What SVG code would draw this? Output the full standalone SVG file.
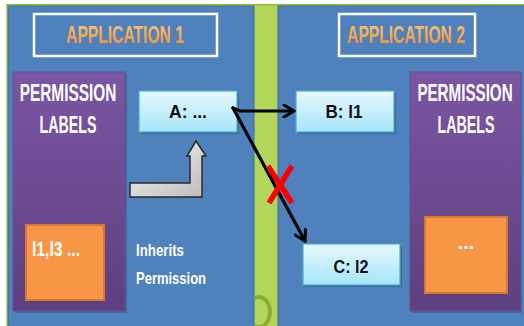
<svg xmlns="http://www.w3.org/2000/svg" width="524" height="326" viewBox="0 0 524 326">
  <style>
    .panel { fill: #4f81bd; stroke: #3d6aa0; stroke-width: 1; }
    .title-box { fill: #4f81bd; stroke: #ffffff; stroke-width: 2.5; }
    .title { font-family: "Liberation Sans", Arial, sans-serif; font-weight: bold; font-size: 23px; fill: url(#orangeText); text-anchor: middle; }
    .perm { fill: url(#purpleGrad); stroke: #6a4c93; stroke-width: 1; }
    .perm-text { font-family: "Liberation Sans", Arial, sans-serif; font-weight: bold; font-size: 23px; fill: #ffffff; text-anchor: middle; }
    .label-box { fill: #f79646; stroke: #d6782f; stroke-width: 2; }
    .label-text { font-family: "Liberation Sans", Arial, sans-serif; font-weight: bold; font-size: 20px; fill: #ffffff; }
    .node { fill: url(#cyanGrad); stroke: #4bacc6; stroke-width: 1.2; }
    .shadow { fill: #2f5582; opacity: 0.55; }
    .node-text { font-family: "Liberation Sans", Arial, sans-serif; font-weight: bold; font-size: 18px; fill: #111111; text-anchor: middle; }
    .note { font-family: "Liberation Sans", Arial, sans-serif; font-weight: bold; font-size: 17px; fill: #ffffff; }
    .conn { stroke: #000000; stroke-width: 3.2; fill: none; stroke-linecap: round; }
    .cross { stroke: #ff0000; stroke-width: 5.5; stroke-linecap: butt; }
  </style>
  <defs>
    <linearGradient id="purpleGrad" x1="0" y1="0" x2="0" y2="1">
      <stop offset="0" stop-color="#7b56a2"/>
      <stop offset="1" stop-color="#5d3f7e"/>
    </linearGradient>
    <linearGradient id="cyanGrad" x1="0" y1="0" x2="0" y2="1">
      <stop offset="0" stop-color="#e6f8fe"/>
      <stop offset="1" stop-color="#a6e5f8"/>
    </linearGradient>
    <linearGradient id="orangeText" x1="0" y1="0" x2="0" y2="1">
      <stop offset="0" stop-color="#fcc874"/>
      <stop offset="1" stop-color="#f08c2a"/>
    </linearGradient>
    <linearGradient id="grayGrad" x1="0" y1="0" x2="1" y2="1">
      <stop offset="0" stop-color="#f4f4f4"/>
      <stop offset="1" stop-color="#bdbdbd"/>
    </linearGradient>
    <marker id="chev" viewBox="0 0 14 14" refX="12" refY="7" markerWidth="14" markerHeight="14" markerUnits="userSpaceOnUse" orient="auto">
      <path d="M2,1 L12,7 L2,13" fill="none" stroke="#000000" stroke-width="3" stroke-linecap="round" stroke-linejoin="round"/>
    </marker>
    <clipPath id="stripClip">
      <rect x="255" y="4" width="23" height="322"/>
    </clipPath>
  </defs>

  <rect x="0" y="0" width="524" height="326" fill="#ffffff"/>
  <rect x="6" y="4" width="518" height="322" fill="#b3d65a"/>
  <rect x="6" y="4" width="518" height="1.5" fill="#8fbf2f"/>

  <g id="strip-mark" clip-path="url(#stripClip)">
    <ellipse cx="259" cy="312" rx="11" ry="15" fill="none" stroke="#8fa83a" stroke-width="4"/>
  </g>

  <g id="app1">
    <rect class="panel" x="8" y="6" width="246" height="322"/>
  </g>
  <g id="app2">
    <rect class="panel" x="278" y="6" width="248" height="322"/>
  </g>

  <g id="title1">
    <rect class="title-box" x="34" y="14" width="183" height="42"/>
    <text class="title" transform="translate(125,43) scale(0.68,1)" x="0" y="0">APPLICATION 1</text>
  </g>
  <g id="title2">
    <rect class="title-box" x="339" y="14" width="136" height="42"/>
    <text class="title" transform="translate(406,43) scale(0.68,1)" x="0" y="0">APPLICATION 2</text>
  </g>

  <g id="perm1">
    <rect class="shadow" x="15" y="74" width="112" height="239"/>
    <rect class="perm" x="13" y="72" width="112" height="239"/>
    <text class="perm-text" transform="translate(68,101) scale(0.67,1)" x="0" y="0">PERMISSION</text>
    <text class="perm-text" transform="translate(68,133) scale(0.62,1)" x="0" y="0">LABELS</text>
  </g>
  <g id="labels1">
    <rect class="label-box" x="26" y="225" width="78" height="75"/>
    <text class="label-text" x="32" y="256" textLength="48" lengthAdjust="spacingAndGlyphs">l1,l3 ...</text>
  </g>

  <g id="perm2">
    <rect class="shadow" x="412" y="74" width="110" height="239"/>
    <rect class="perm" x="410" y="72" width="111" height="239"/>
    <text class="perm-text" transform="translate(465,101) scale(0.66,1)" x="0" y="0">PERMISSION</text>
    <text class="perm-text" transform="translate(466,133) scale(0.62,1)" x="0" y="0">LABELS</text>
  </g>
  <g id="labels2">
    <rect class="label-box" x="425" y="217" width="82" height="76"/>
    <text class="label-text" x="466" y="249" text-anchor="middle">...</text>
  </g>

  <g id="nodeA">
    <rect class="shadow" x="141" y="93" width="98" height="41"/>
    <rect class="node" x="139" y="91" width="98" height="41"/>
    <text class="node-text" x="188" y="118" textLength="38" lengthAdjust="spacingAndGlyphs">A: ...</text>
  </g>
  <g id="nodeB">
    <rect class="shadow" x="298" y="93" width="98" height="41"/>
    <rect class="node" x="296" y="91" width="98" height="41"/>
    <text class="node-text" x="344" y="118" textLength="37" lengthAdjust="spacingAndGlyphs">B: l1</text>
  </g>
  <g id="nodeC">
    <rect class="shadow" x="305" y="246" width="97" height="41"/>
    <rect class="node" x="303" y="244" width="97" height="41"/>
    <text class="node-text" x="351" y="273" textLength="35" lengthAdjust="spacingAndGlyphs">C: l2</text>
  </g>

  <g id="inherit">
    <path d="M130,183 L190,183 L190,156 L187,156 L196,141 L206,156 L202,156 L202,197 L130,197 Z" fill="url(#grayGrad)" stroke="#2a2a2a" stroke-width="1.5" stroke-linejoin="miter"/>
    <text class="note" x="136" y="256" textLength="48" lengthAdjust="spacingAndGlyphs">Inherits</text>
    <text class="note" x="136" y="284" textLength="70" lengthAdjust="spacingAndGlyphs">Permission</text>
  </g>

  <g id="connectors">
    <path class="conn" d="M233,108 L240,111 L294,111" marker-end="url(#chev)"/>
    <path class="conn" d="M233,108 L305,241" marker-end="url(#chev)"/>
    <g id="blocked">
      <line class="cross" x1="268" y1="166" x2="292" y2="203"/>
      <line class="cross" x1="292" y1="166" x2="269" y2="203"/>
    </g>
  </g>
</svg>
